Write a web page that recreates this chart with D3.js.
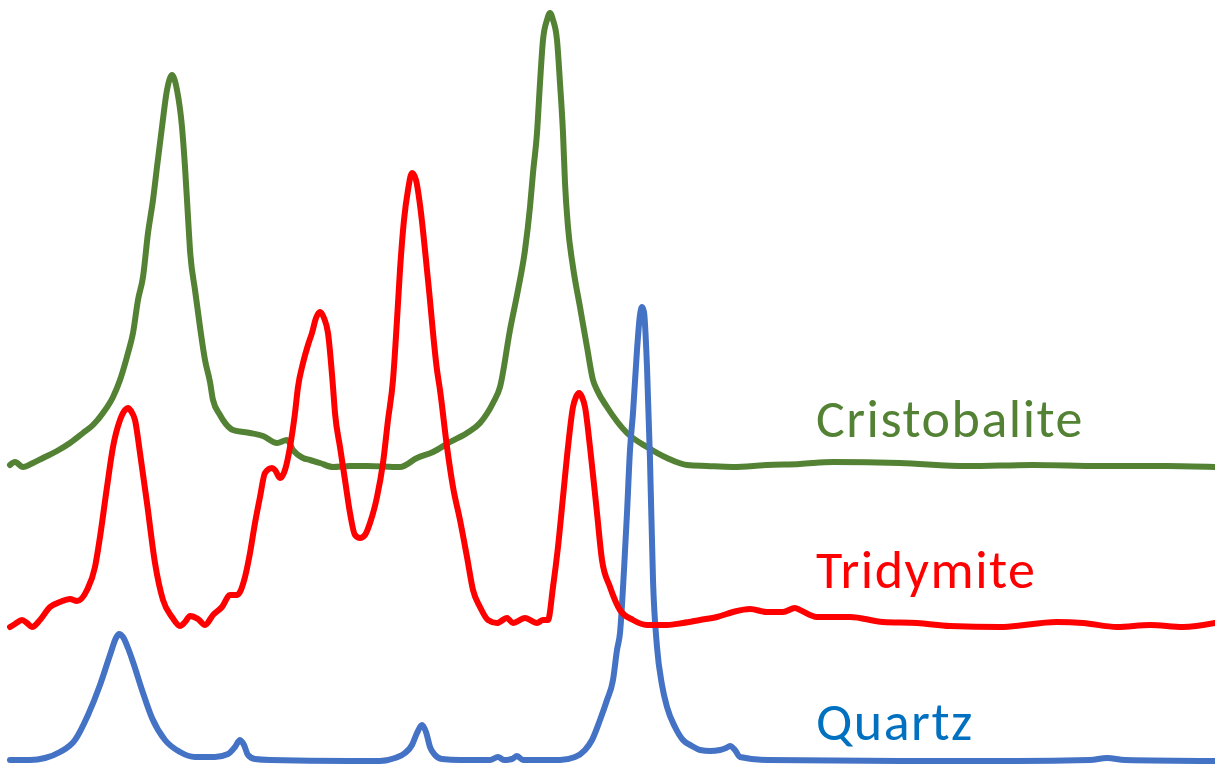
<!DOCTYPE html>
<html>
<head>
<meta charset="utf-8">
<script src="https://cdn.jsdelivr.net/npm/d3@7"></script>
<style>
  html, body { margin: 0; padding: 0; background: #fff; }
  svg { display: block; }
</style>
</head>
<body>
<svg id="chart" width="1215" height="767"></svg>
<script>
// Channel positions and intensities (relative to each trace's own baseline)
const quartzX = [10,30,45,60,75,88,100,110,116,119,123,128,133,142,152,165,180,195,215,228,235,240,244,248,255,270,350,380,395,405,412,417,422,426,430,435,442,460,490,498,504,512,517,523,560,575,585,592,600,607,613,617,620,624,627,630,633,637,640,642,644,647,650,653,657,662,667,675,683,692,700,710,720,726,730,735,740,767,900,1000,1090,1107,1125,1215];
const quartzY = [1,1,3,9,21,46,76,106,123,127,124,113,99,71,43,21,9,4,4,7,14,21,16,6,2,1,0,0,3,8,16,28,36,29,14,6,2,1,1,4,1,2,5,1,1,4,11,21,41,61,81,111,128,191,248,311,348,411,446,454,449,394,301,181,114,76,54,34,21,15,11,10,11,13,15,11,4,1,0,0,1,3,1,0];

const tridymiteX = [10,15,22,27,32,40,50,60,70,77,87,95,100,107,113,120,125,128,131,135,140,147,155,163,172,180,185,190,198,205,213,222,230,237,245,250,255,260,265,272,275,280,285,290,295,298,303,308,312,316,320,324,328,333,335,340,345,350,355,360,365,370,377,383,388,393,397,400,404,408,412,416,420,428,437,440,447,453,460,467,473,480,488,497,507,513,525,537,543,548,553,558,563,568,573,576,579,582,585,590,597,602,610,620,633,647,667,683,700,717,733,750,767,783,795,800,817,850,883,917,950,1000,1057,1083,1117,1150,1183,1215];
const tridymiteY = [-2,1,5,2,-2,5,18,23,26,24,35,58,88,138,178,205,215,217,214,205,172,122,62,25,8,-1,3,9,6,0,10,18,30,30,48,72,102,128,152,157,155,147,155,178,212,238,262,280,292,307,313,307,292,238,212,178,145,112,90,87,90,102,128,162,205,245,305,355,405,435,452,445,420,345,255,235,178,138,105,68,35,18,5,2,7,2,7,2,5,5,38,78,128,178,218,228,232,228,218,178,112,65,38,15,5,0,0,2,5,8,13,16,13,13,17,15,8,8,3,2,-1,-2,3,2,-2,0,-2,2];

const cristobaliteX = [10,15,23,33,43,57,70,83,93,103,113,120,128,133,138,143,148,153,157,162,167,170,172,174,177,182,185,188,190,195,200,205,210,213,220,223,233,250,263,277,287,293,303,310,320,333,350,367,400,417,433,450,467,480,493,500,510,518,525,530,533,537,540,543,547,550,553,557,560,563,565,568,573,580,587,593,597,607,627,647,667,687,707,733,767,800,833,900,967,1033,1100,1167,1215];
const cristobaliteY = [1,4,-1,3,8,15,23,33,41,53,69,86,113,133,166,189,233,266,299,339,376,388,391,388,376,339,299,249,216,176,139,106,84,66,51,46,36,33,30,23,26,16,8,6,3,-1,0,0,-1,8,14,24,33,43,63,79,136,176,216,259,293,333,383,426,446,453,446,426,383,333,283,239,199,159,119,86,76,59,33,19,8,1,0,-1,1,2,4,3,0,1,0,0,-1];

// Vertical offsets stacking the three traces
const offsets = { quartz: 0, tridymite: 136, cristobalite: 295 };

const seriesNames = ["Cristobalite", "Tridymite", "Quartz"];
const seriesColors = ["#548235", "#FF0000", "#4472C4"];
const labelColors = ["#548235", "#FF0000", "#0070C0"];

const svg = d3.select("#chart");

const x = d3.scaleLinear().domain([0, 1215]).range([0, 1215]);
const y = d3.scaleLinear().domain([0, 761]).range([761, 0]);

const traces = [
  { name: "Cristobalite", xs: cristobaliteX, ys: cristobaliteY, off: offsets.cristobalite },
  { name: "Tridymite", xs: tridymiteX, ys: tridymiteY, off: offsets.tridymite },
  { name: "Quartz", xs: quartzX, ys: quartzY, off: offsets.quartz }
];

const line = d3.line()
  .x(d => x(d[0]))
  .y(d => y(d[1]))
  .curve(d3.curveMonotoneX);

// Tridymite is drawn last so it sits over cristobalite where they cross
const drawOrder = [0, 2, 1];
drawOrder.forEach(i => {
  const t = traces[i];
  const pts = t.xs.map((xv, k) => [xv, t.ys[k] + t.off]);
  svg.append("path")
    .attr("d", line(pts))
    .attr("fill", "none")
    .attr("stroke", seriesColors[i])
    .attr("stroke-width", 6)
    .attr("stroke-linejoin", "round")
    .attr("stroke-linecap", "round");
});

// Labels sit above each trace's flat tail
const labelLift = [29, 37, 21];
traces.forEach((t, i) => {
  svg.append("text")
    .attr("x", x(816))
    .attr("y", y(t.off + labelLift[i]))
    .attr("fill", labelColors[i])
    .attr("font-family", "Calibri, Carlito, Lato, 'Open Sans', sans-serif")
    .attr("font-size", 54)
    .attr("letter-spacing", 1.5)
    .text(seriesNames[i]);
});
</script>
</body>
</html>
